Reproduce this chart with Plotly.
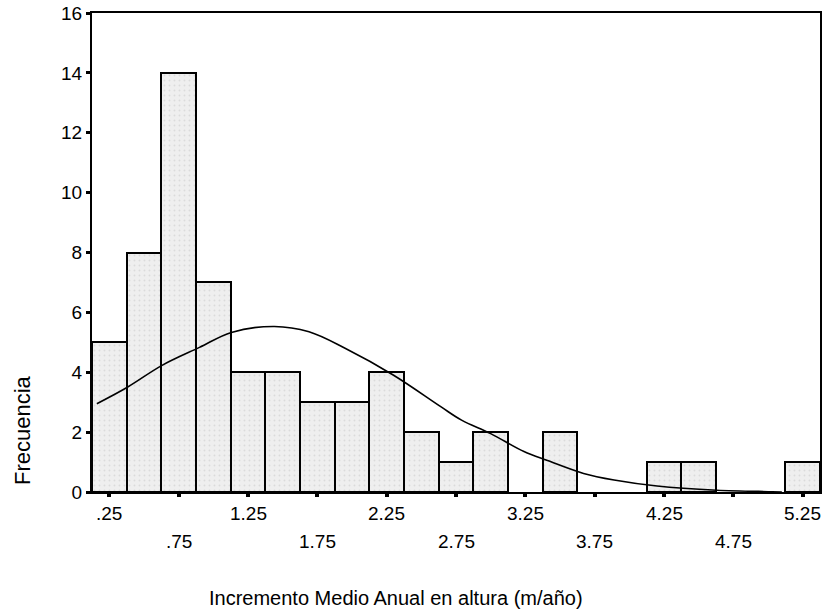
import plotly.graph_objects as go

# Histogram bins (centres, width 0.25) and frequencies
bin_centers = [0.25, 0.50, 0.75, 1.00, 1.25, 1.50, 1.75, 2.00, 2.25, 2.50, 2.75,
               3.00, 3.25, 3.50, 3.75, 4.00, 4.25, 4.50, 4.75, 5.00, 5.25]
frequencies = [5, 8, 14, 7, 4, 4, 3, 3, 4, 2, 1,
               2, 0, 2, 0, 0, 1, 1, 0, 0, 1]
bin_width = 0.25

# Fitted normal curve
curve_x = [0.16, 0.38, 0.63, 0.90, 1.13, 1.44, 1.69, 1.95, 2.30, 2.64, 2.79,
           3.00, 3.24, 3.41, 3.67, 3.89, 4.20, 4.63, 5.03, 5.10]
curve_y = [2.95, 3.50, 4.23, 4.83, 5.33, 5.53, 5.35, 4.80, 3.90, 2.85, 2.40,
           1.95, 1.35, 1.05, 0.62, 0.40, 0.20, 0.06, 0.01, 0.0]

# Axis ticks
x_tick_vals = [0.25, 0.75, 1.25, 1.75, 2.25, 2.75, 3.25, 3.75, 4.25, 4.75, 5.25]
x_tick_text = [".25", ".75", "1.25", "1.75", "2.25", "2.75", "3.25", "3.75",
               "4.25", "4.75", "5.25"]
y_tick_vals = [0, 2, 4, 6, 8, 10, 12, 14, 16]

x_title = "Incremento Medio Anual en altura (m/año)"
y_title = "Frecuencia"

FONT = "Liberation Sans, Arial, sans-serif"

bar_x = [c for c, f in zip(bin_centers, frequencies) if f > 0]
bar_y = [f for f in frequencies if f > 0]

fig = go.Figure()
fig.add_trace(go.Bar(
    x=bar_x, y=bar_y, width=bin_width,
    marker=dict(
        color="#eeeeee",
        line=dict(color="black", width=2),
        pattern=dict(shape=".", fgcolor="#c8c8c8", bgcolor="#efefef",
                     size=5, solidity=0.12),
    ),
    showlegend=False, hoverinfo="skip",
))
fig.add_trace(go.Scatter(
    x=curve_x, y=curve_y, mode="lines", line_shape="spline",
    line=dict(color="black", width=1.6), showlegend=False, hoverinfo="skip",
))

annotations = []
for i, (v, t) in enumerate(zip(x_tick_vals, x_tick_text)):
    annotations.append(dict(
        x=v, y=0, xref="x", yref="paper", text=t, showarrow=False,
        yanchor="middle", xanchor="center",
        yshift=-21 if i % 2 == 0 else -49,
        font=dict(family=FONT, size=19, color="black"),
    ))
annotations.append(dict(
    x=0.5, y=0, xref="paper", yref="paper", text=x_title, showarrow=False,
    xanchor="center", yanchor="middle", xshift=-60, yshift=-106,
    font=dict(family=FONT, size=20, color="black"),
))
annotations.append(dict(
    x=0, y=0, xref="paper", yref="paper", text=y_title, showarrow=False,
    xanchor="center", yanchor="middle", textangle=-90, xshift=-70, yshift=62,
    font=dict(family=FONT, size=22, color="black"),
))

fig.update_layout(
    width=825, height=615,
    margin=dict(l=92, r=3, t=13, b=123),
    paper_bgcolor="white", plot_bgcolor="white",
    bargap=0,
    annotations=annotations,
    xaxis=dict(
        range=[0.125, 5.375], tickmode="array", tickvals=x_tick_vals,
        showticklabels=False, ticks="outside", ticklen=3, tickwidth=4,
        tickcolor="black", showline=True, linecolor="black", linewidth=2,
        mirror=True, showgrid=False, zeroline=False,
    ),
    yaxis=dict(
        range=[0, 16], tickmode="array", tickvals=y_tick_vals,
        ticks="outside", ticklen=4, tickwidth=3, tickcolor="black",
        tickfont=dict(family=FONT, size=19, color="black"),
        showline=True, linecolor="black", linewidth=2, mirror=True,
        showgrid=False, zeroline=False,
    ),
)

fig.write_html("out.html")
